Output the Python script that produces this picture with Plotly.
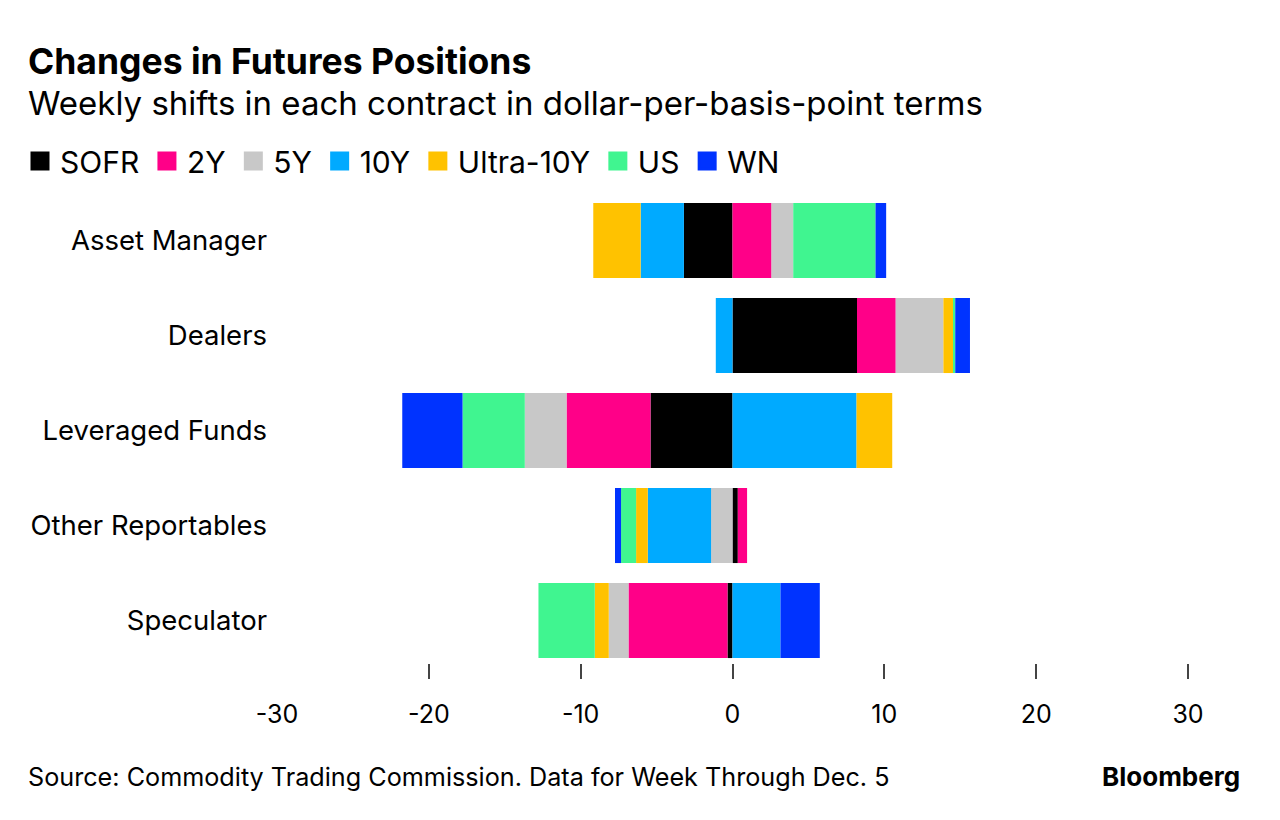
import plotly.graph_objects as go

categories = ["Asset Manager", "Dealers", "Leveraged Funds", "Other Reportables", "Speculator"]
series_names = ["SOFR", "2Y", "5Y", "10Y", "Ultra-10Y", "US", "WN"]
sofr = [-3.2, 8.2, -5.4, 0.35, -0.33]
y2 = [2.57, 2.55, -5.53, 0.61, -6.52]
y5 = [1.43, 3.14, -2.75, -1.41, -1.3]
y10 = [-2.85, -1.1, 8.17, -4.17, 3.16]
ultra10 = [-3.12, 0.68, 2.35, -0.77, -0.92]
us = [5.42, 0.1, -4.1, -0.99, -3.71]
wn = [0.7, 0.97, -3.97, -0.4, 2.59]
series_values = [sofr, y2, y5, y10, ultra10, us, wn]
colors = ["#000000", "#ff0088", "#c8c8c8", "#00aaff", "#ffc200", "#40f590", "#0033ff"]
tick_vals = [-30, -20, -10, 0, 10, 20, 30]
tick_marks = [-20, -10, 0, 10, 20, 30]

FONT = "Inter"
W, H = 1280, 820
ML, MR, MT, MB = 269, 100, 185, 165
PAD = "\u200a"

fig = go.Figure()
for name, vals, col in zip(series_names, series_values, colors):
    fig.add_trace(go.Bar(
        y=categories, x=vals, orientation="h", name=name,
        marker=dict(color=col, line=dict(width=0)),
        showlegend=False, hoverinfo="x+name",
    ))
    fig.add_trace(go.Scatter(
        x=[None], y=[None], mode="markers", name=name + PAD,
        marker=dict(symbol="square", size=20, color=col, line=dict(width=3, color=col)),
        showlegend=True,
    ))

pw = W - ML - MR
ph = H - MT - MB
def px(xp):
    return (xp - ML) / pw
def py(yp):
    return 1 - (yp - MT) / ph

fig.update_layout(
    width=W, height=H,
    margin=dict(l=ML, r=MR, t=MT, b=MB, autoexpand=False),
    paper_bgcolor="white", plot_bgcolor="white",
    barmode="relative", bargap=0.21,
    font=dict(family=FONT, color="#000000"),
    legend=dict(
        orientation="h", x=px(12), y=py(153), xanchor="left", yanchor="middle",
        font=dict(size=30, family=FONT), itemsizing="trace",
        itemwidth=30, traceorder="normal",
    ),
    xaxis=dict(
        range=[-30, 30], tickvals=tick_vals, ticktext=[str(v) for v in tick_vals],
        ticks="", showgrid=False, zeroline=False, showline=False,
        tickfont=dict(size=25, family=FONT), ticklabelstandoff=34,
        fixedrange=True, automargin=False,
    ),
    xaxis2=dict(
        range=[-30, 30], overlaying="x", side="bottom", tickvals=tick_marks,
        showticklabels=False, ticks="outside", ticklen=15, tickwidth=1.5,
        tickcolor="#444444", showgrid=False, zeroline=False, showline=False,
        anchor="y", automargin=False,
    ),
    yaxis=dict(
        categoryorder="array", categoryarray=categories,
        range=[4.447, -0.5], showgrid=False, zeroline=False, showline=False,
        ticks="", tickfont=dict(size=27.5, family=FONT), ticklabelstandoff=9,
        automargin=False,
    ),
    annotations=[
        dict(text="<b>Changes in Futures Positions</b>", xref="paper", yref="paper",
             x=px(18), y=py(54), xanchor="left", yanchor="middle", showarrow=False,
             font=dict(size=35.5, family=FONT)),
        dict(text="Weekly shifts in each contract in dollar-per-basis-point terms",
             xref="paper", yref="paper", x=px(18), y=py(95), xanchor="left",
             yanchor="middle", showarrow=False, font=dict(size=33, family=FONT)),
        dict(text="Source: Commodity Trading Commission. Data for Week Through Dec. 5",
             xref="paper", yref="paper", x=px(18), y=py(769), xanchor="left",
             yanchor="middle", showarrow=False, font=dict(size=25.2, family=FONT)),
        dict(text="<b>Bloomberg</b>", xref="paper", yref="paper", x=px(1234),
             y=py(768), xanchor="right", yanchor="middle", showarrow=False,
             font=dict(size=26, family=FONT)),
    ],
)
fig.add_trace(go.Scatter(x=[None], y=[None], xaxis="x2", showlegend=False, hoverinfo="skip"))

fig.write_html("out.html")
